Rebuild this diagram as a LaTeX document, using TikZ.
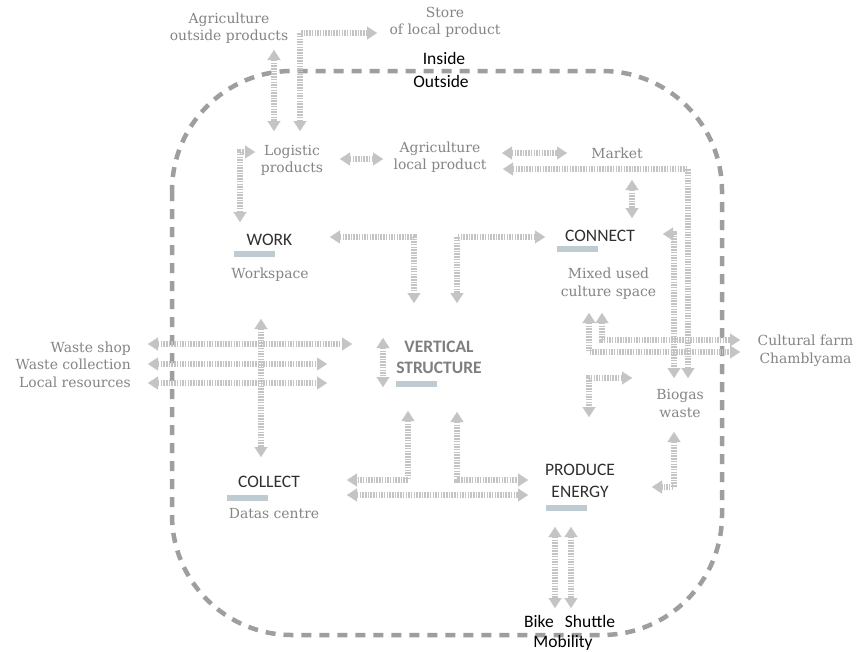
\documentclass[tikz,border=0pt]{standalone}
\usepackage{fontspec}
\setmainfont{DejaVu Serif}
\newfontfamily\labelfont{Carlito}
\usetikzlibrary{arrows.meta}

\definecolor{flowgray}{HTML}{C4C4C4}
\definecolor{rimgray}{HTML}{9E9E9E}
\definecolor{notegray}{HTML}{858585}
\definecolor{labelgray}{HTML}{303030}
\definecolor{structgray}{HTML}{7F7F7F}
\definecolor{barblue}{HTML}{BECBD0}

\tikzset{
  note/.style={font=\fontsize{13.9}{17.5}\selectfont, text=notegray, align=center, inner sep=0pt},
  zonelabel/.style={font=\labelfont\fontsize{17.5}{22}\selectfont, text=labelgray, align=center, inner sep=0pt},
  edge/.style={font=\labelfont\fontsize{17.5}{22}\selectfont, text=black, inner sep=0pt},
  structlabel/.style={font=\labelfont\bfseries\fontsize{17.5}{21}\selectfont, text=structgray, align=center, inner sep=0pt},
  bar/.style={fill=barblue, minimum width=41pt, minimum height=6.5pt, inner sep=0pt, draw=none},
  flow/.style={draw=flowgray, line width=6pt, dash pattern=on 1.5pt off 1.2pt, line join=miter},
  rim/.style={draw=rimgray, line width=4.5pt, dash pattern=on 10pt off 8pt}
}

\begin{document}
\begin{tikzpicture}[x=1pt, y=-1pt, >={Triangle[length=10pt, width=13pt, line width=0.1pt]}]
  \fill[white] (0,0) rectangle (856,651);
  \useasboundingbox (0,0) rectangle (856,651);

  % inside / outside boundary
  \draw[rim, rounded corners=120pt] (172,71) rectangle (722,635);

  % ---------- texts ----------
  \node[note] (agrout) at (229,28) {Agriculture\\outside products};
  \node[note] (store) at (445,22.5) {Store\\of local product};
  \node[edge] (inside) at (444,58) {Inside};
  \node[edge] (outside) at (441,81) {Outside};
  \node[note] (logistic) at (292,160.5) {Logistic\\products};
  \node[note] (agrlocal) at (440,157) {Agriculture\\local product};
  \node[note] (market) at (617,153) {Market};

  \node[zonelabel] (work) at (269.5,240) {WORK};
  \node[bar] (workbar) at (254.5,254) {};
  \node[note] (workspace) at (270,275) {Workspace};

  \node[zonelabel] (connect) at (600,236) {CONNECT};
  \node[bar] (connectbar) at (577.5,249) {};
  \node[note] (mixed) at (608.5,283.5) {Mixed used\\culture space};

  \node[note, align=right, anchor=east] (waste) at (131,364.5) {Waste shop\\Waste collection\\Local resources};

  \node[structlabel] (vertical) at (439,357.5) {VERTICAL\\STRUCTURE};
  \node[bar] (verticalbar) at (416.5,384) {};

  \node[note] (cultural) at (805.5,351) {Cultural farm\\Chamblyama};
  \node[note] (biogas) at (680,403.5) {Biogas\\waste};

  \node[zonelabel] (collect) at (269,482) {COLLECT};
  \node[bar] (collectbar) at (247.5,498) {};
  \node[note] (datas) at (274,514) {Datas centre};

  \node[zonelabel] (produce) at (580,481) {PRODUCE\\ENERGY};
  \node[bar] (producebar) at (566.5,508) {};

  \node[edge] (bike) at (539,621) {Bike};
  \node[edge] (shuttle) at (590,621) {Shuttle};
  \node[edge] (mobility) at (563,643) {Mobility};

  % ---------- flow end points ----------
  \coordinate (a1t) at (274,50);   \coordinate (a1b) at (274,131);
  \coordinate (a2d) at (300,131);  \coordinate (a2c) at (300,33);  \coordinate (a2r) at (377,33);
  \coordinate (a3d) at (240,222);  \coordinate (a3c) at (240,152); \coordinate (a3r) at (255,152);
  \coordinate (a4l) at (340,159);  \coordinate (a4r) at (383,159);
  \coordinate (a5l) at (502,153);  \coordinate (a5r) at (567,153);
  \coordinate (a6l) at (503,169);  \coordinate (a6c) at (688,169); \coordinate (a6d) at (688,378);
  \coordinate (a7t) at (632,180);  \coordinate (a7b) at (632,218);
  \coordinate (a8l) at (663,234);  \coordinate (a8c) at (674,234); \coordinate (a8d) at (674,378);
  \coordinate (a9l) at (330,237);  \coordinate (a9c) at (414,237); \coordinate (a9d) at (414,303);
  \coordinate (a10r) at (545,237); \coordinate (a10c) at (457,237); \coordinate (a10d) at (457,303);
  \coordinate (a11u) at (602,313); \coordinate (a11c) at (602,340); \coordinate (a11r) at (740,340);
  \coordinate (a12u) at (589,313); \coordinate (a12c) at (589,352); \coordinate (a12r) at (740,352);
  \coordinate (a13r) at (632,378); \coordinate (a13c) at (589,378); \coordinate (a13d) at (589,417);
  \coordinate (a14u) at (674,432); \coordinate (a14c) at (674,487); \coordinate (a14l) at (652,487);
  \coordinate (a15l) at (148,344); \coordinate (a15r) at (352,344);
  \coordinate (a16l) at (148,364); \coordinate (a16r) at (327,364);
  \coordinate (a17l) at (148,383); \coordinate (a17r) at (327,383);
  \coordinate (a18t) at (261,319); \coordinate (a18b) at (261,457);
  \coordinate (a19t) at (383,338); \coordinate (a19b) at (383,387);
  \coordinate (a20u) at (408,411); \coordinate (a20c) at (408,480); \coordinate (a20l) at (347,480);
  \coordinate (a21u) at (457,412); \coordinate (a21c) at (457,480); \coordinate (a21r) at (528,480);
  \coordinate (a22l) at (347,495); \coordinate (a22r) at (528,495);
  \coordinate (a23t) at (555,527); \coordinate (a23b) at (555,608);
  \coordinate (a24t) at (571,527); \coordinate (a24b) at (571,608);

  % ---------- flows ----------
  \draw[flow,<->] (a1t) -- (a1b);
  \draw[flow,<->] (a2d) -- (a2c) -- (a2r);
  \draw[flow,<->] (a3d) -- (a3c) -- (a3r);
  \draw[flow,<->] (a4l) -- (a4r);
  \draw[flow,<->] (a5l) -- (a5r);
  \draw[flow,<->] (a6l) -- (a6c) -- (a6d);
  \draw[flow,<->] (a7t) -- (a7b);
  \draw[flow,<->] (a8l) -- (a8c) -- (a8d);
  \draw[flow,<->] (a9l) -- (a9c) -- (a9d);
  \draw[flow,<->] (a10r) -- (a10c) -- (a10d);
  \draw[flow,<->] (a11u) -- (a11c) -- (a11r);
  \draw[flow,<->] (a12u) -- (a12c) -- (a12r);
  \draw[flow,<->] (a13r) -- (a13c) -- (a13d);
  \draw[flow,<->] (a14u) -- (a14c) -- (a14l);
  \draw[flow,<->] (a15l) -- (a15r);
  \draw[flow,<->] (a16l) -- (a16r);
  \draw[flow,<->] (a17l) -- (a17r);
  \draw[flow,<->] (a18t) -- (a18b);
  \draw[flow,<->] (a19t) -- (a19b);
  \draw[flow,<->] (a20u) -- (a20c) -- (a20l);
  \draw[flow,<->] (a21u) -- (a21c) -- (a21r);
  \draw[flow,<->] (a22l) -- (a22r);
  \draw[flow,<->] (a23t) -- (a23b);
  \draw[flow,<->] (a24t) -- (a24b);
\end{tikzpicture}
\end{document}
